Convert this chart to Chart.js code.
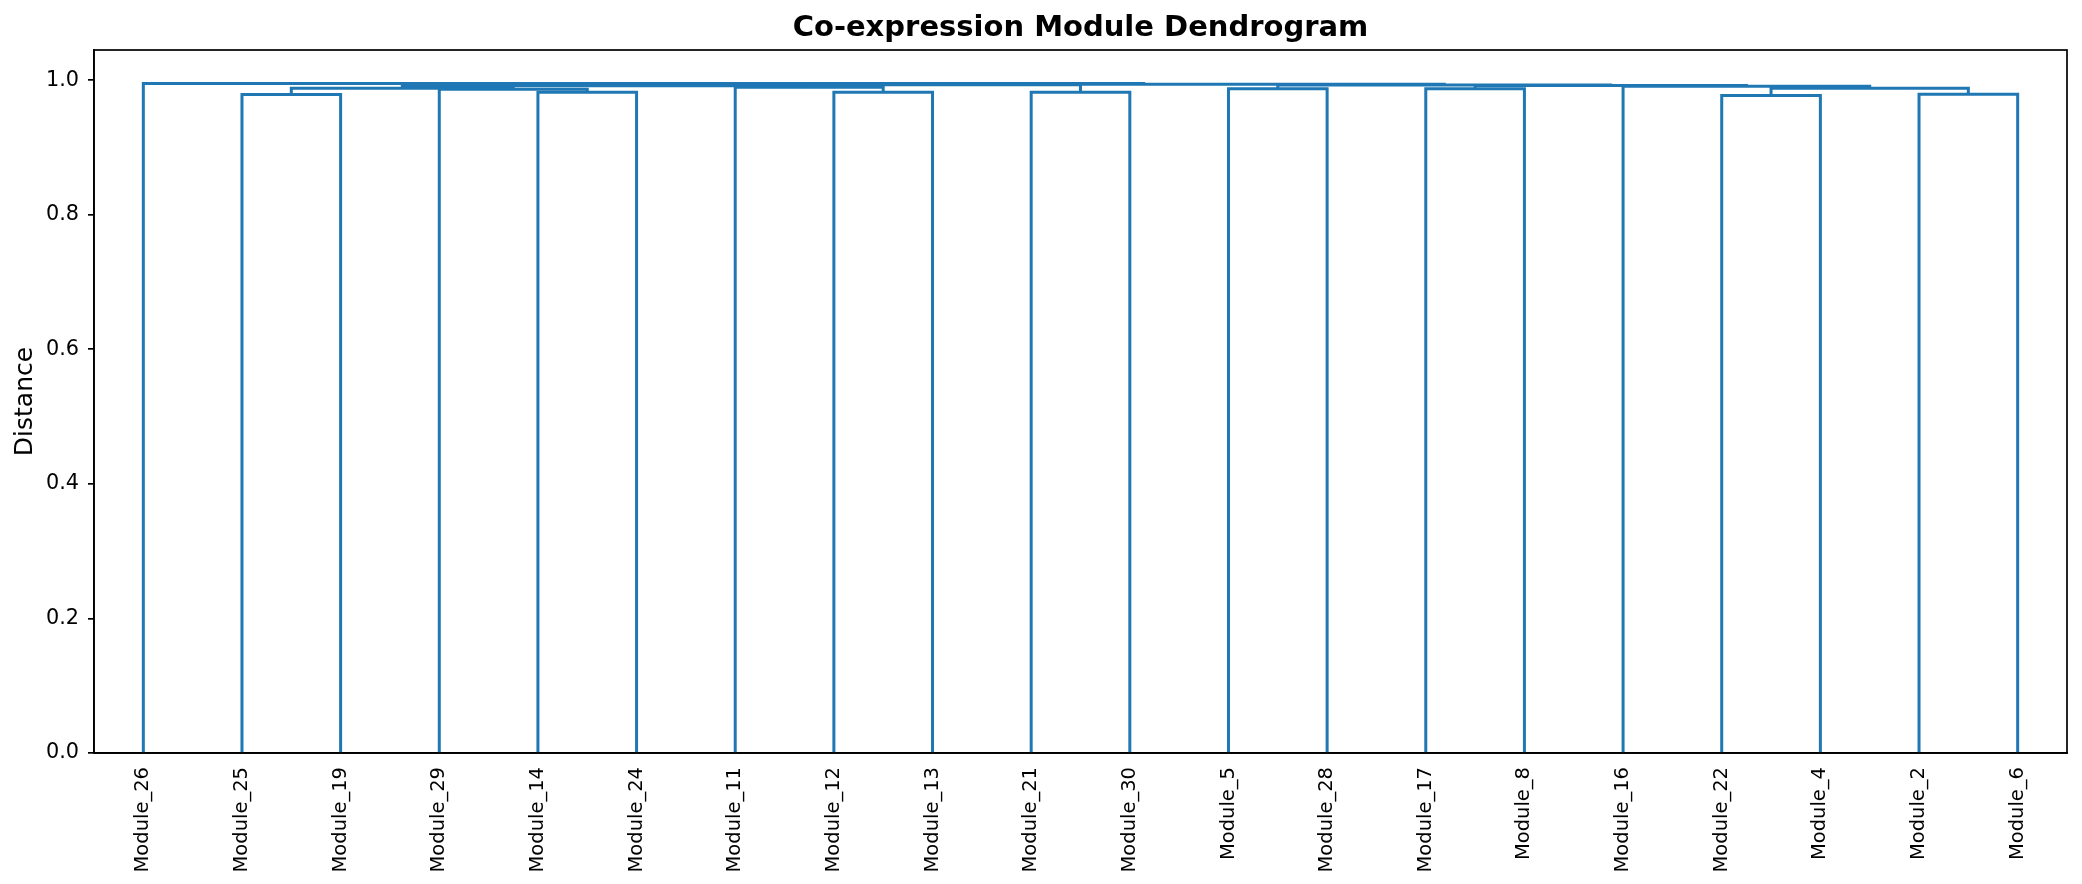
<!DOCTYPE html>
<html>
<head>
<meta charset="utf-8">
<script src="https://cdn.jsdelivr.net/npm/chart.js@4.4.0/dist/chart.umd.min.js"></script>
<style>
  html, body { margin: 0; padding: 0; background: #fff; }
  canvas { display: block; }
</style>
</head>
<body>
<canvas id="dendro" width="2082" height="884"></canvas>
<script>
// leaves in the order they appear along the x axis
const leafLabels = [
  "Module_26", "Module_25", "Module_19", "Module_29", "Module_14",
  "Module_24", "Module_11", "Module_12", "Module_13", "Module_21",
  "Module_30", "Module_5", "Module_28", "Module_17", "Module_8",
  "Module_16", "Module_22", "Module_4", "Module_2", "Module_6"
];

// linkage: merge k creates node 20 + k from linkLeft[k] and linkRight[k]
const linkLeft   = [16, 1, 18, 4, 7, 9, 3, 13, 11, 21, 20, 6, 15, 29, 27, 33, 28, 35, 0];
const linkRight  = [17, 2, 19, 5, 8, 10, 23, 14, 12, 26, 22, 24, 30, 31, 32, 25, 34, 36, 37];
const linkHeight = [0.9773, 0.9788, 0.9790, 0.9822, 0.9820, 0.9820, 0.9866, 0.9871, 0.9874,
                    0.9881, 0.9880, 0.9896, 0.9910, 0.9918, 0.9920, 0.9931, 0.9930, 0.9938, 0.9951];

const yTicks = [0, 0.2, 0.4, 0.6, 0.8, 1.0];

const lineColor = "#1f77b4";
const font = "'DejaVu Sans', sans-serif";

// node positions (scipy style: leaves at 5, 15, 25, ...)
const nodeX = leafLabels.map((_, i) => i * 10 + 5);
const nodeY = leafLabels.map(() => 0);
const datasets = [];
linkLeft.forEach((l, k) => {
  const r = linkRight[k];
  const h = linkHeight[k];
  datasets.push({
    data: [
      { x: nodeX[l], y: nodeY[l] },
      { x: nodeX[l], y: h },
      { x: nodeX[r], y: h },
      { x: nodeX[r], y: nodeY[r] }
    ],
    borderColor: lineColor,
    borderWidth: 3,
    showLine: true,
    pointRadius: 0,
    tension: 0,
    fill: false
  });
  nodeX.push((nodeX[l] + nodeX[r]) / 2);
  nodeY.push(h);
});

const yMax = Math.max(...linkHeight) * 1.05;

// box round the plot + title centred on the axes
const framePlugin = {
  id: "frame",
  afterDraw(chart) {
    const { ctx, chartArea: a } = chart;
    ctx.save();
    ctx.strokeStyle = "#000";
    ctx.lineWidth = 1.7;
    ctx.strokeRect(a.left, a.top, a.right - a.left, a.bottom - a.top);
    ctx.fillStyle = "#000";
    ctx.font = "bold 29px " + font;
    ctx.textAlign = "center";
    ctx.textBaseline = "middle";
    ctx.fillText("Co-expression Module Dendrogram", (a.left + a.right) / 2, 28);
    ctx.restore();
  }
};

new Chart(document.getElementById("dendro"), {
  type: "scatter",
  data: { datasets },
  options: {
    responsive: false,
    animation: false,
    devicePixelRatio: 1,
    layout: { padding: { top: 50, right: 15, left: 0, bottom: 0 } },
    plugins: {
      legend: { display: false },
      tooltip: { enabled: false }
    },
    scales: {
      x: {
        type: "linear",
        min: 0,
        max: leafLabels.length * 10,
        grid: { display: false, drawTicks: false },
        border: { display: true, color: "#000", width: 1.7 },
        afterBuildTicks: (scale) => {
          scale.ticks = leafLabels.map((_, i) => ({ value: i * 10 + 5 }));
        },
        afterFit: (scale) => { scale.height = 131; },
        ticks: {
          autoSkip: false,
          minRotation: 90,
          maxRotation: 90,
          padding: 14,
          color: "#000",
          font: { family: font, size: 19.5 },
          callback: (v) => leafLabels[Math.round((v - 5) / 10)]
        }
      },
      y: {
        min: 0,
        max: yMax,
        grid: { drawOnChartArea: false, drawTicks: true, tickLength: 6, color: "#000", lineWidth: 1.7 },
        border: { display: true, color: "#000", width: 1.7 },
        afterBuildTicks: (scale) => {
          scale.ticks = yTicks.map((v) => ({ value: v }));
        },
        afterFit: (scale) => { scale.width = 94; },
        title: {
          display: true,
          text: "Distance",
          color: "#000",
          font: { family: font, size: 25 },
          padding: { top: 10, bottom: 0 }
        },
        ticks: {
          padding: 9,
          color: "#000",
          font: { family: font, size: 20.8 },
          callback: (v) => v.toFixed(1)
        }
      }
    }
  },
  plugins: [framePlugin]
});
</script>
</body>
</html>
